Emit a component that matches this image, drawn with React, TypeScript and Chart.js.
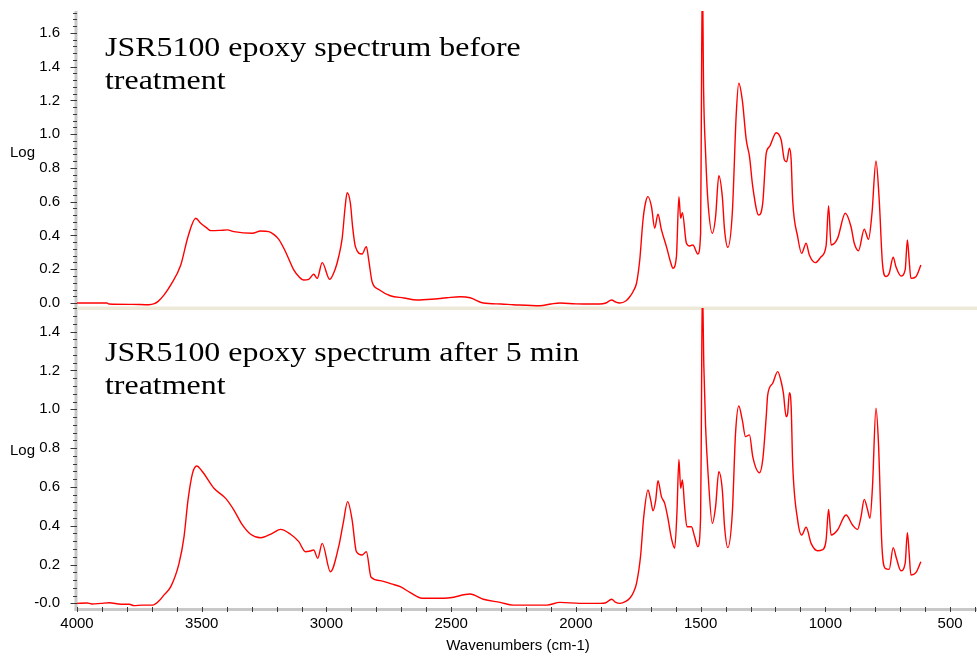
import React, { useEffect, useRef } from 'react';
import { Chart, registerables } from 'chart.js';

Chart.register(...registerables);

// ---------- data ----------
const X_TICKS = [4000, 3500, 3000, 2500, 2000, 1500, 1000, 500];
const X_MIN = 392;
const X_MAX = 4000;

const TOP_TICKS = [0, 0.2, 0.4, 0.6, 0.8, 1.0, 1.2, 1.4, 1.6];
const TOP_TICK_LABELS = ['0.0', '0.2', '0.4', '0.6', '0.8', '1.0', '1.2', '1.4', '1.6'];
const TOP_MIN = -0.0296;
const TOP_MAX = 1.73;

const BOTTOM_TICKS = [0, 0.2, 0.4, 0.6, 0.8, 1.0, 1.2, 1.4];
const BOTTOM_TICK_LABELS = ['-0.0', '0.2', '0.4', '0.6', '0.8', '1.0', '1.2', '1.4'];
const BOTTOM_MIN = -0.024;
const BOTTOM_MAX = 1.522;

const TOP_TITLE = ['JSR5100 epoxy spectrum before', 'treatment'];
const BOTTOM_TITLE = ['JSR5100 epoxy spectrum after 5 min', 'treatment'];
const Y_TITLE = 'Log';
const X_TITLE = 'Wavenumbers (cm-1)';

// before treatment
const TOP_WN = [
  4000, 3880, 3872, 3780, 3712, 3690, 3676, 3650, 3624, 3584, 3555, 3524, 3504, 3480, 3464, 3430,
  3397, 3371, 3297, 3264, 3231, 3210, 3191, 3164, 3131, 3110, 3091, 3071, 3051, 3037, 3017, 2987,
  2965, 2951, 2937, 2925, 2917, 2904, 2895, 2884, 2857, 2840, 2830, 2817, 2790, 2744, 2690, 2637,
  2580, 2517, 2464, 2424, 2371, 2300, 2251, 2144, 2100, 2064, 2000, 1932, 1904, 1880, 1857, 1840,
  1824, 1800, 1784, 1770, 1757, 1744, 1731, 1720, 1711, 1697, 1684, 1671, 1657, 1637, 1620, 1611,
  1597, 1587, 1580, 1573, 1557, 1544, 1531, 1511, 1500, 1497, 1493, 1488, 1480, 1471, 1453, 1440,
  1427, 1413, 1404, 1391, 1373, 1357, 1347, 1333, 1317, 1304, 1291, 1267, 1251, 1237, 1224, 1197,
  1177, 1164, 1155, 1144, 1137, 1131, 1111, 1095, 1077, 1064, 1040, 1017, 997, 987, 977, 951,
  920, 897, 884, 867, 844, 827, 813, 797, 784, 771, 757, 744, 728, 717, 697, 680,
  671, 664, 657, 637, 617,
];
const TOP_ABS = [
  0.0, 0.0, -0.006, -0.008, -0.01, -0.004, 0.008, 0.05, 0.107, 0.225, 0.393, 0.502, 0.472, 0.445, 0.429, 0.43,
  0.433, 0.423, 0.413, 0.427, 0.423, 0.405, 0.377, 0.304, 0.196, 0.155, 0.136, 0.14, 0.17, 0.146, 0.239, 0.14,
  0.2, 0.274, 0.383, 0.57, 0.654, 0.591, 0.45, 0.334, 0.29, 0.334, 0.25, 0.126, 0.08, 0.043, 0.03, 0.018,
  0.022, 0.031, 0.037, 0.031, 0.0, -0.006, -0.01, -0.016, -0.006, 0.0, -0.005, -0.006, -0.006, 0.0, 0.018, 0.005,
  0.0, 0.012, 0.037, 0.07, 0.117, 0.255, 0.492, 0.6, 0.63, 0.571, 0.443, 0.526, 0.433, 0.334, 0.24, 0.206,
  0.274, 0.63, 0.502, 0.535, 0.354, 0.338, 0.344, 0.29, 0.413, 1.124, 1.95, 1.262, 0.887, 0.61, 0.413, 0.511,
  0.754, 0.63, 0.433, 0.33, 0.532, 1.124, 1.302, 1.203, 0.966, 0.867, 0.689, 0.521, 0.591, 0.887, 0.926, 1.009,
  0.966, 0.847, 0.837, 0.917, 0.847, 0.61, 0.393, 0.294, 0.354, 0.284, 0.239, 0.274, 0.338, 0.575, 0.344, 0.383,
  0.532, 0.452, 0.354, 0.31, 0.437, 0.377, 0.532, 0.841, 0.61, 0.235, 0.156, 0.176, 0.271, 0.215, 0.16, 0.196,
  0.373, 0.255, 0.146, 0.156, 0.225,
];

// after 5 min treatment
const BOTTOM_WN = [
  4000, 3960, 3940, 3904, 3870, 3824, 3790, 3771, 3740, 3697, 3671, 3650, 3624, 3591, 3571, 3555,
  3537, 3520, 3497, 3451, 3404, 3371, 3337, 3304, 3264, 3217, 3184, 3144, 3111, 3084, 3064, 3051,
  3035, 3017, 2984, 2951, 2933, 2915, 2897, 2880, 2857, 2840, 2821, 2784, 2740, 2704, 2664, 2617,
  2560, 2504, 2424, 2371, 2304, 2251, 2117, 2064, 1984, 1904, 1880, 1857, 1840, 1824, 1800, 1784,
  1770, 1757, 1741, 1728, 1711, 1700, 1691, 1680, 1671, 1657, 1644, 1631, 1617, 1604, 1595, 1587,
  1580, 1573, 1564, 1555, 1537, 1524, 1511, 1500, 1497, 1493, 1487, 1480, 1471, 1453, 1440, 1427,
  1413, 1404, 1391, 1373, 1360, 1347, 1333, 1320, 1304, 1291, 1264, 1251, 1237, 1231, 1211, 1191,
  1177, 1168, 1157, 1151, 1144, 1137, 1131, 1111, 1095, 1077, 1057, 1031, 1013, 997, 987, 977,
  951, 917, 891, 871, 857, 844, 831, 821, 811, 797, 787, 773, 760, 744, 728, 715,
  697, 680, 671, 664, 657, 637, 617,
];
const BOTTOM_ABS = [
  0.0, 0.002, -0.003, 0.0, 0.003, -0.005, -0.005, -0.012, -0.009, -0.009, 0.013, 0.045, 0.086, 0.206, 0.343, 0.532,
  0.67, 0.708, 0.678, 0.593, 0.541, 0.481, 0.404, 0.356, 0.338, 0.361, 0.381, 0.356, 0.318, 0.266, 0.27, 0.275,
  0.232, 0.309, 0.163, 0.292, 0.412, 0.524, 0.429, 0.266, 0.249, 0.266, 0.134, 0.117, 0.1, 0.086, 0.055, 0.026,
  0.026, 0.029, 0.048, 0.021, 0.005, -0.009, -0.009, 0.005, 0.0, 0.0, 0.003, 0.021, 0.005, 0.0, 0.01, 0.026,
  0.055, 0.103, 0.24, 0.446, 0.584, 0.532, 0.477, 0.532, 0.632, 0.55, 0.515, 0.438, 0.335, 0.284, 0.464, 0.742,
  0.593, 0.636, 0.498, 0.395, 0.395, 0.343, 0.292, 0.446, 0.928, 1.65, 1.22, 0.91, 0.687, 0.412, 0.498, 0.678,
  0.584, 0.395, 0.287, 0.464, 0.876, 1.017, 0.945, 0.859, 0.868, 0.756, 0.673, 0.739, 0.962, 1.074, 1.134, 1.194,
  1.142, 1.082, 0.962, 0.979, 1.086, 1.013, 0.722, 0.429, 0.352, 0.392, 0.309, 0.271, 0.275, 0.326, 0.484, 0.352,
  0.378, 0.455, 0.404, 0.381, 0.446, 0.536, 0.484, 0.438, 0.601, 1.005, 0.825, 0.292, 0.18, 0.175, 0.287, 0.232,
  0.168, 0.206, 0.364, 0.258, 0.146, 0.158, 0.214,
];

// ---------- styling ----------
const SERIF = '"Liberation Serif", "Times New Roman", serif';
const SANS = '"Liberation Sans", Arial, sans-serif';
const LINE_COLOR = '#ff0000';
const AXIS_BAND = '#c8c8c8';
const SEPARATOR = '#ece9d8';
const TICK_COLOR = '#3a3a3a';

const decorPlugin = {
  id: 'decor',
  beforeDatasetsDraw(chart: any) {
    const { ctx, chartArea: a } = chart;
    ctx.save();
    ctx.fillStyle = AXIS_BAND;
    ctx.fillRect(a.left - 2.5, a.top, 3, a.bottom - a.top + 3);
    ctx.fillRect(a.left - 2.5, a.bottom, a.right - a.left + 2.5, 3);
    const yt = chart.scales.yTop;
    ctx.fillStyle = SEPARATOR;
    ctx.fillRect(a.left + 0.5, yt.bottom - 1.5, a.right - a.left, 3.5);
    ctx.restore();
  },
  beforeDatasetDraw(chart: any, args: any) {
    const ds = chart.data.datasets[args.index];
    const ys = chart.scales[ds.yAxisID];
    const a = chart.chartArea;
    const ctx = chart.ctx;
    ctx.save();
    ctx.beginPath();
    ctx.rect(a.left, ys.top, a.right - a.left, ys.bottom - ys.top);
    ctx.clip();
  },
  afterDatasetDraw(chart: any) {
    chart.ctx.restore();
  },
  afterDraw(chart: any) {
    const { ctx, chartArea: a } = chart;
    ctx.save();
    ctx.strokeStyle = TICK_COLOR;
    ctx.lineWidth = 1;
    ctx.beginPath();
    // y ticks (major every 0.2, minor every 0.04)
    ['yTop', 'yBottom'].forEach((id) => {
      const s = chart.scales[id];
      const k0 = Math.ceil(s.min / 0.04 - 1e-6);
      const k1 = Math.floor(s.max / 0.04 + 1e-6);
      for (let k = k0; k <= k1; k++) {
        const y = Math.round(s.getPixelForValue(k * 0.04)) + 0.5;
        const len = k % 5 === 0 ? 6 : 3.5;
        ctx.moveTo(a.left - 2.5 - len + 2, y);
        ctx.lineTo(a.left, y);
      }
    });
    // x ticks every 100
    const xs = chart.scales.x;
    for (let w = X_MAX; w >= xs.min; w -= 100) {
      const x = Math.round(xs.getPixelForValue(w)) + 0.5;
      ctx.moveTo(x, a.bottom - 1);
      ctx.lineTo(x, a.bottom + 4);
    }
    ctx.stroke();

    // panel titles
    const drawTitle = (lines: string[], top: number) => {
      ctx.font = `28px ${SERIF}`;
      ctx.fillStyle = '#000';
      ctx.textAlign = 'left';
      ctx.textBaseline = 'alphabetic';
      lines.forEach((t, i) => {
        ctx.save();
        ctx.translate(105, top + i * 32.5);
        ctx.scale(1.14, 1);
        ctx.fillText(t, 0, 0);
        ctx.restore();
      });
    };
    drawTitle(TOP_TITLE, chart.scales.yTop.top + 45);
    drawTitle(BOTTOM_TITLE, chart.scales.yBottom.top + 53);

    // "Log" labels
    ctx.font = `15px ${SANS}`;
    ctx.fillStyle = '#000';
    ctx.textBaseline = 'middle';
    ctx.textAlign = 'left';
    ['yTop', 'yBottom'].forEach((id) => {
      const s = chart.scales[id];
      ctx.fillText(Y_TITLE, 10, (s.top + s.bottom) / 2 - 7);
    });

    // x title
    ctx.textAlign = 'center';
    ctx.fillText(X_TITLE, 518, 646);
    ctx.restore();
  },
};

const fitY = (s: any) => {
  s.width = 77;
  s.paddingTop = 0;
  s.paddingBottom = 0;
};

export default function App() {
  const ref = useRef<HTMLCanvasElement>(null);

  useEffect(() => {
    const lineStyle = {
      borderColor: LINE_COLOR,
      borderWidth: 1.4,
      pointRadius: 0,
      cubicInterpolationMode: 'monotone' as const,
      fill: false,
    };
    const tickFont = { family: SANS, size: 15 };
    const chart = new Chart(ref.current as HTMLCanvasElement, {
      type: 'line',
      data: {
        datasets: [
          {
            ...lineStyle,
            label: 'before treatment',
            yAxisID: 'yTop',
            data: TOP_WN.map((x, i) => ({ x, y: TOP_ABS[i] })),
          },
          {
            ...lineStyle,
            label: 'after 5 min treatment',
            yAxisID: 'yBottom',
            data: BOTTOM_WN.map((x, i) => ({ x, y: BOTTOM_ABS[i] })),
          },
        ],
      },
      options: {
        animation: false,
        responsive: false,
        events: [],
        layout: { padding: { top: 11, left: 0, right: 0, bottom: 0 } },
        plugins: { legend: { display: false }, tooltip: { enabled: false } },
        scales: {
          x: {
            type: 'linear',
            position: 'bottom',
            reverse: true,
            min: X_MIN,
            max: X_MAX,
            grid: { display: false, drawTicks: false },
            border: { display: false },
            afterBuildTicks: (s: any) => {
              s.ticks = X_TICKS.map((v) => ({ value: v }));
            },
            afterFit: (s: any) => {
              s.height = 50;
              s.paddingLeft = 0;
              s.paddingRight = 0;
            },
            ticks: {
              autoSkip: false,
              maxRotation: 0,
              padding: 7,
              color: '#000',
              font: tickFont,
              callback: (_v: any, i: number) => String(X_TICKS[i]),
            },
          },
          yBottom: {
            type: 'linear',
            position: 'left',
            stack: 'panels',
            stackWeight: 300,
            weight: 1,
            min: BOTTOM_MIN,
            max: BOTTOM_MAX,
            grid: { display: false, drawTicks: false },
            border: { display: false },
            afterBuildTicks: (s: any) => {
              s.ticks = BOTTOM_TICKS.map((v) => ({ value: v }));
            },
            afterFit: fitY,
            ticks: {
              autoSkip: false,
              padding: 17,
              color: '#000',
              font: tickFont,
              callback: (_v: any, i: number) => BOTTOM_TICK_LABELS[i],
            },
          },
          yTop: {
            type: 'linear',
            position: 'left',
            stack: 'panels',
            stackWeight: 297,
            weight: 2,
            min: TOP_MIN,
            max: TOP_MAX,
            grid: { display: false, drawTicks: false },
            border: { display: false },
            afterBuildTicks: (s: any) => {
              s.ticks = TOP_TICKS.map((v) => ({ value: v }));
            },
            afterFit: fitY,
            ticks: {
              autoSkip: false,
              padding: 17,
              color: '#000',
              font: tickFont,
              callback: (_v: any, i: number) => TOP_TICK_LABELS[i],
            },
          },
        },
      } as any,
      plugins: [decorPlugin],
    });
    return () => chart.destroy();
  }, []);

  return (
    <div style={{ position: 'fixed', left: 0, top: 0, width: 977, height: 658, background: '#fff' }}>
      <canvas ref={ref} width={977} height={658} style={{ display: 'block' }} />
    </div>
  );
}
